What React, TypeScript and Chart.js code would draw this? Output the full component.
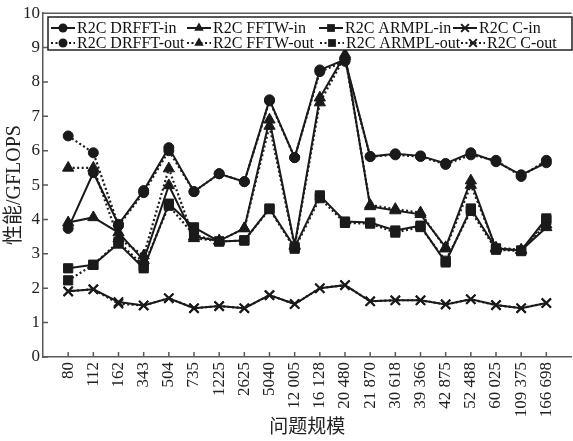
import React, { useEffect, useRef } from 'react';
import { Chart, registerables } from 'chart.js';

Chart.register(...registerables);

const categories = ['80', '112', '162', '343', '504', '735', '1225', '2625', '5040', '12 005', '16 128', '20 480', '21 870', '30 618', '39 366', '42 875', '52 488', '60 025', '109 375', '166 698'];

const drfftIn = [3.74, 5.36, 3.86, 4.84, 6.09, 4.81, 5.33, 5.10, 7.48, 5.80, 8.35, 8.65, 5.83, 5.91, 5.85, 5.63, 5.94, 5.68, 5.30, 5.65];
const drfftOut = [6.43, 5.94, 3.82, 4.78, 6.00, 4.81, 5.33, 5.10, 7.45, 5.80, 8.30, 8.60, 5.83, 5.88, 5.83, 5.60, 5.88, 5.72, 5.25, 5.72];
const fftwIn = [3.91, 4.06, 3.62, 2.81, 4.99, 3.50, 3.38, 3.74, 6.90, 3.25, 7.54, 8.80, 4.38, 4.26, 4.15, 3.19, 5.13, 3.15, 3.10, 3.77];
const fftwOut = [5.50, 5.50, 3.45, 2.95, 5.48, 3.45, 3.38, 3.74, 6.72, 3.22, 7.40, 8.75, 4.42, 4.30, 4.20, 3.15, 5.00, 3.18, 3.12, 3.85];
const armplIn = [2.58, 2.68, 3.30, 2.58, 4.46, 3.77, 3.36, 3.39, 4.32, 3.19, 4.70, 3.94, 3.91, 3.68, 3.82, 2.75, 4.32, 3.16, 3.10, 4.03];
const armplOut = [2.23, 2.68, 3.35, 2.65, 4.40, 3.55, 3.36, 3.39, 4.30, 3.15, 4.62, 3.90, 3.88, 3.62, 3.78, 2.80, 4.25, 3.12, 3.08, 3.98];
const cIn = [1.91, 1.97, 1.60, 1.50, 1.71, 1.42, 1.48, 1.42, 1.80, 1.54, 2.00, 2.09, 1.62, 1.65, 1.65, 1.53, 1.68, 1.51, 1.42, 1.57];
const cOut = [1.91, 1.97, 1.55, 1.50, 1.71, 1.42, 1.48, 1.42, 1.80, 1.54, 2.00, 2.09, 1.62, 1.65, 1.65, 1.53, 1.68, 1.51, 1.42, 1.57];

const seriesNames = ['R2C DRFFT-in', 'R2C DRFFT-out', 'R2C FFTW-in', 'R2C FFTW-out', 'R2C ARMPL-in', 'R2C ARMPL-out', 'R2C C-in', 'R2C C-out'];
const seriesValues = [drfftIn, drfftOut, fftwIn, fftwOut, armplIn, armplOut, cIn, cOut];
const seriesMarkers = ['circle', 'circle', 'triangle', 'triangle', 'rect', 'rect', 'crossRot', 'crossRot'];

const yMin = 0;
const yMax = 10;
const xTitle = '问题规模';
const yTitle = '性能/GFLOPS';

const FONT = "'Liberation Serif', 'Noto Sans CJK SC', serif";
const INK = '#1a1a1a';
const AXIS = '#5a5a5a';

const markerRadius: Record<string, number> = { circle: 5, triangle: 6.5, rect: 6.5, crossRot: 6.5 };

function drawMarker(ctx: CanvasRenderingContext2D, style: string, x: number, y: number, r: number) {
  ctx.beginPath();
  if (style === 'circle') {
    ctx.arc(x, y, r, 0, Math.PI * 2);
    ctx.fill();
  } else if (style === 'triangle') {
    ctx.moveTo(x, y - r);
    ctx.lineTo(x + r * 0.866, y + r * 0.5);
    ctx.lineTo(x - r * 0.866, y + r * 0.5);
    ctx.closePath();
    ctx.fill();
  } else if (style === 'rect') {
    const s = r * 0.707;
    ctx.rect(x - s, y - s, 2 * s, 2 * s);
    ctx.fill();
  } else {
    const s = r * 0.707;
    ctx.lineWidth = 2;
    ctx.moveTo(x - s, y - s);
    ctx.lineTo(x + s, y + s);
    ctx.moveTo(x + s, y - s);
    ctx.lineTo(x - s, y + s);
    ctx.stroke();
  }
}

const framePlugin = {
  id: 'frameTicks',
  afterDatasetsDraw(chart: any) {
    const { ctx, chartArea } = chart;
    const xs = chart.scales.x;
    const ys = chart.scales.y;
    ctx.save();
    ctx.strokeStyle = AXIS;
    ctx.lineWidth = 1.5;
    ctx.setLineDash([]);
    ctx.beginPath();
    ctx.moveTo(chartArea.left, chartArea.top);
    ctx.lineTo(chartArea.right, chartArea.top);
    xs.ticks.forEach((t: any) => {
      const px = xs.getPixelForValue(t.value);
      ctx.moveTo(px, chartArea.bottom);
      ctx.lineTo(px, chartArea.bottom - 5);
    });
    ys.ticks.forEach((t: any) => {
      const py = ys.getPixelForValue(t.value);
      ctx.moveTo(chartArea.left, py);
      ctx.lineTo(chartArea.left + 5, py);
    });
    ctx.stroke();
    ctx.restore();
  },
};

const legendPlugin = {
  id: 'boxLegend',
  afterDraw(chart: any) {
    const ctx: CanvasRenderingContext2D = chart.ctx;
    ctx.save();
    const bx = 48, by = 17, bw = 524, bh = 33;
    ctx.fillStyle = '#ffffff';
    ctx.fillRect(bx, by, bw, bh);
    ctx.strokeStyle = '#222';
    ctx.lineWidth = 1.5;
    ctx.strokeRect(bx, by, bw, bh);
    const cols = [[51, 187, 319, 453], [51, 187, 320, 461]];
    const rows = [28, 43];
    ctx.font = `16px ${FONT}`;
    ctx.textBaseline = 'middle';
    ctx.textAlign = 'left';
    chart.data.datasets.forEach((ds: any, i: number) => {
      const r = i % 2;
      const c = Math.floor(i / 2);
      const x0 = cols[r][c];
      const y = rows[r];
      ctx.strokeStyle = INK;
      ctx.fillStyle = INK;
      ctx.lineWidth = 2;
      ctx.setLineDash(ds.borderDash && ds.borderDash.length ? ds.borderDash : []);
      ctx.beginPath();
      ctx.moveTo(x0, y);
      ctx.lineTo(x0 + 24, y);
      ctx.stroke();
      ctx.setLineDash([]);
      const st = ds.pointStyle;
      drawMarker(ctx, st, x0 + 12, y, st === 'circle' ? 4.5 : 5.5);
      ctx.fillStyle = '#111';
      ctx.fillText(ds.label, x0 + 26, y + 1);
    });
    ctx.restore();
  },
};

export default function App() {
  const canvasRef = useRef<HTMLCanvasElement | null>(null);

  useEffect(() => {
    if (!canvasRef.current) return;
    const datasets = seriesNames.map((name, k) => {
      const st = seriesMarkers[k];
      const dotted = k % 2 === 1;
      return {
        label: name,
        data: seriesValues[k].map((v, i) => ({ x: i + 1, y: v })),
        borderColor: INK,
        backgroundColor: INK,
        pointBackgroundColor: INK,
        pointBorderColor: INK,
        borderWidth: dotted ? 2.2 : 2,
        borderDash: dotted ? [2, 2.5] : [],
        pointStyle: st,
        pointRadius: markerRadius[st],
        pointBorderWidth: st === 'crossRot' ? 2 : 1,
        tension: 0,
        fill: false,
      };
    });

    const chart = new Chart(canvasRef.current, {
      type: 'line',
      data: { datasets },
      options: {
        animation: false,
        responsive: false,
        maintainAspectRatio: false,
        layout: { padding: { top: 11, right: 2, left: 0, bottom: 0 } },
        plugins: { legend: { display: false }, tooltip: { enabled: false } },
        scales: {
          x: {
            type: 'linear',
            min: 0,
            max: 21,
            grid: { display: false, drawTicks: false },
            border: { color: AXIS, width: 1.5 },
            ticks: {
              stepSize: 1,
              autoSkip: false,
              maxRotation: 90,
              minRotation: 90,
              padding: 5,
              color: '#222',
              font: { family: FONT, size: 17 },
              callback: (v: any) => categories[Number(v) - 1] ?? '',
            },
            afterBuildTicks: (s: any) => {
              s.ticks = s.ticks.filter((t: any) => t.value >= 1 && t.value <= categories.length);
            },
            afterFit: (s: any) => {
              s.height = 84;
            },
            title: {
              display: true,
              text: xTitle,
              color: '#222',
              font: { family: FONT, size: 19 },
              padding: { top: 0, bottom: 2 },
            },
          },
          y: {
            min: yMin,
            max: yMax,
            grid: { display: false, drawTicks: false },
            border: { color: AXIS, width: 1.5 },
            ticks: {
              stepSize: 1,
              padding: 3,
              color: '#222',
              font: { family: FONT, size: 17 },
            },
            afterFit: (s: any) => {
              s.width = 43;
            },
            title: {
              display: true,
              text: yTitle,
              color: '#222',
              font: { family: FONT, size: 20 },
              padding: { top: 3, bottom: 0 },
            },
          },
        },
      } as any,
      plugins: [framePlugin, legendPlugin],
    });
    return () => chart.destroy();
  }, []);

  return (
    <div style={{ position: 'absolute', left: 0, top: 0, width: 573, height: 441, overflow: 'hidden', background: '#fff' }}>
      <canvas ref={canvasRef} width={580} height={441} style={{ display: 'block', width: 580, height: 441 }} />
    </div>
  );
}
